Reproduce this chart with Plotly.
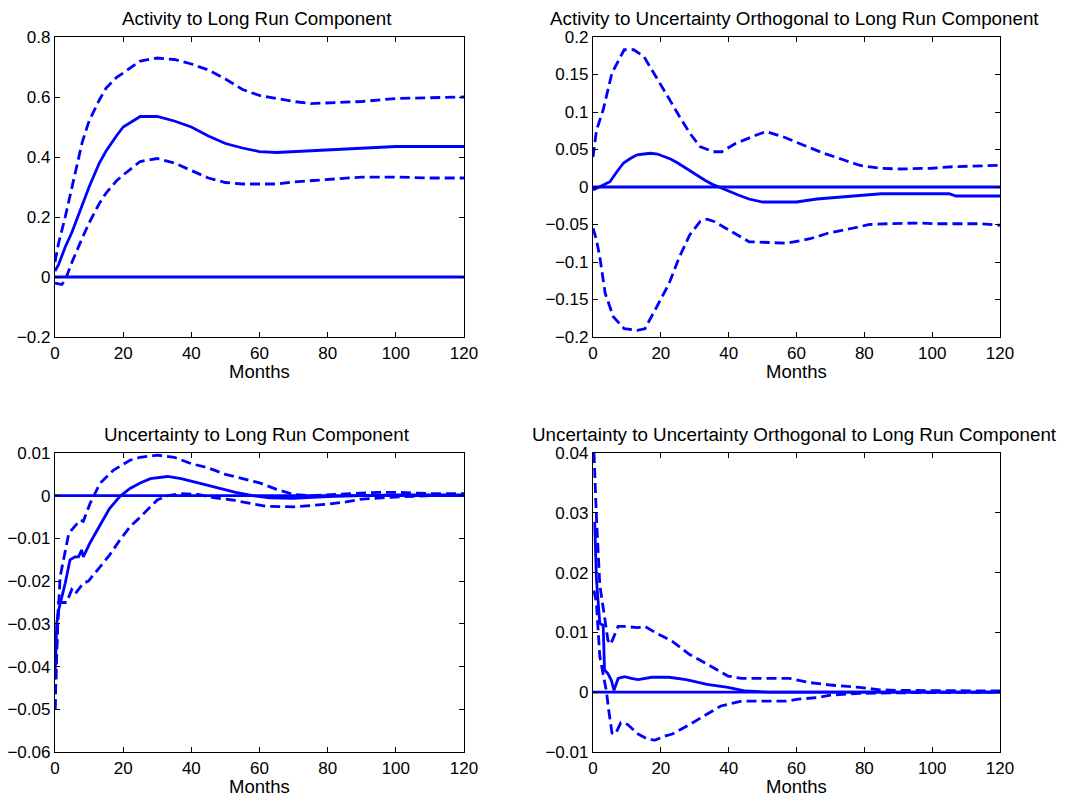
import plotly.graph_objects as go

# ---------------- data ----------------
titles = [
    "Activity to Long Run Component",
    "Activity to Uncertainty Orthogonal to Long Run Component",
    "Uncertainty to Long Run Component",
    "Uncertainty to Uncertainty Orthogonal to Long Run Component",
]
x_label = "Months"
x_ticks = [0, 20, 40, 60, 80, 100, 120]
zero_x = [0, 120]
zero_y = [0, 0]

# Panel 1: Activity to Long Run Component
p1_mid_x = [0, 1, 3, 5, 8, 10, 13, 15, 18, 20, 25, 30, 35, 40, 45, 50, 55, 60, 65, 70, 75, 80, 90, 100, 120]
p1_mid_y = [0.02, 0.04, 0.10, 0.15, 0.24, 0.30, 0.38, 0.42, 0.47, 0.50, 0.535, 0.535, 0.52, 0.50, 0.47, 0.445, 0.43, 0.418, 0.415, 0.418, 0.42, 0.425, 0.43, 0.435, 0.435]
p1_up_x = [0, 1, 3, 5, 8, 10, 13, 15, 18, 20, 25, 30, 35, 40, 45, 50, 55, 60, 65, 70, 75, 80, 90, 100, 120]
p1_up_y = [0.05, 0.11, 0.20, 0.30, 0.45, 0.52, 0.59, 0.63, 0.665, 0.68, 0.72, 0.73, 0.725, 0.71, 0.69, 0.66, 0.625, 0.605, 0.595, 0.585, 0.578, 0.58, 0.585, 0.595, 0.60]
p1_lo_x = [0, 2, 3, 5, 8, 10, 13, 15, 18, 20, 25, 30, 35, 40, 45, 50, 55, 60, 65, 70, 80, 90, 100, 110, 120]
p1_lo_y = [-0.02, -0.025, -0.01, 0.05, 0.13, 0.18, 0.245, 0.28, 0.32, 0.34, 0.385, 0.395, 0.38, 0.355, 0.33, 0.315, 0.31, 0.31, 0.31, 0.317, 0.325, 0.333, 0.333, 0.33, 0.33]

# Panel 2: Activity to Uncertainty Orthogonal to Long Run Component
p2_mid_x = [0, 1, 3, 5, 7, 9, 11, 13, 15, 17, 19, 21, 23, 25, 27, 29, 31, 33, 35, 37, 39, 41, 43, 46, 50, 55, 60, 66, 74, 80, 85, 95, 105, 107, 120]
p2_mid_y = [-0.004, -0.002, 0.002, 0.007, 0.02, 0.032, 0.038, 0.043, 0.044, 0.045, 0.044, 0.041, 0.037, 0.032, 0.026, 0.02, 0.015, 0.009, 0.004, 0.0, -0.004, -0.008, -0.011, -0.016, -0.02, -0.02, -0.02, -0.016, -0.013, -0.011, -0.009, -0.009, -0.009, -0.012, -0.012]
p2_up_x = [0, 1, 3, 5.6, 9.2, 12, 15, 18, 22, 25.5, 28.5, 31.5, 35.5, 38, 42, 48, 51, 56, 62, 68, 74, 78.5, 84.5, 90.5, 100, 106, 120]
p2_up_y = [0.04, 0.075, 0.103, 0.152, 0.183, 0.183, 0.174, 0.152, 0.121, 0.094, 0.072, 0.054, 0.047, 0.047, 0.058, 0.069, 0.074, 0.067, 0.056, 0.045, 0.036, 0.029, 0.025, 0.024, 0.025, 0.027, 0.029]
p2_lo_x = [0, 1, 2, 3.6, 6, 9.2, 13, 15.3, 18.3, 22.4, 25.5, 28.5, 31.6, 33.6, 35.7, 39.8, 46, 52, 57, 64, 69, 76.5, 81.5, 86.6, 96, 101, 114, 120]
p2_lo_y = [-0.055, -0.07, -0.093, -0.142, -0.173, -0.189, -0.191, -0.189, -0.164, -0.129, -0.093, -0.064, -0.046, -0.043, -0.046, -0.057, -0.073, -0.074, -0.075, -0.069, -0.062, -0.055, -0.05, -0.049, -0.048, -0.049, -0.049, -0.051]

# Panel 3: Uncertainty to Long Run Component
p3_mid_x = [0, 0.5, 1, 2, 3, 4.4, 5.9, 6.9, 7.8, 8.3, 10.3, 13.2, 16, 19, 22, 25, 28, 33, 37, 42, 48, 53, 58, 63, 70, 75, 80, 90, 100, 120]
p3_mid_y = [-0.043, -0.030, -0.027, -0.0237, -0.0205, -0.015, -0.0143, -0.0143, -0.0127, -0.0143, -0.011, -0.0069, -0.003, -0.0002, 0.0017, 0.003, 0.004, 0.0045, 0.004, 0.003, 0.0018, 0.0008, 0.0, -0.0005, -0.0006, -0.0004, -0.0002, 0.0, 0.0002, 0.0002]
p3_up_x = [0, 0.5, 1.5, 2.5, 4, 4.9, 7.4, 8.3, 10.3, 13.2, 17.2, 22, 25, 30, 35, 40, 45, 50, 55, 60, 65, 70, 75, 80, 85, 90, 95, 100, 110, 120]
p3_up_y = [-0.05, -0.035, -0.019, -0.015, -0.009, -0.008, -0.0057, -0.006, -0.0018, 0.0029, 0.006, 0.0083, 0.009, 0.0095, 0.009, 0.0075, 0.0065, 0.005, 0.004, 0.003, 0.0015, 0.0003, 0.0, 0.0002, 0.0003, 0.0005, 0.0008, 0.0008, 0.0005, 0.0005]
p3_lo_x = [0, 0.5, 1, 3.4, 4.9, 5.9, 8.3, 9.8, 13.2, 16, 19, 22, 25, 30, 33, 37, 42, 47, 52, 57, 62, 70, 80, 85, 90, 100, 110, 120]
p3_lo_y = [-0.05, -0.038, -0.025, -0.025, -0.022, -0.023, -0.0205, -0.020, -0.0166, -0.0139, -0.0104, -0.0073, -0.005, -0.001, 0.0, 0.0005, 0.0003, -0.0005, -0.001, -0.0018, -0.0025, -0.0026, -0.002, -0.0015, -0.0008, -0.0003, 0.0, 0.0]

# Panel 4: Uncertainty to Uncertainty Orthogonal to Long Run Component
p4_mid_x = [0.5, 1, 2, 3, 3.4, 4.4, 5.4, 6.2, 7.4, 9.3, 11.3, 13.3, 17.3, 22.4, 27.5, 33.6, 39.8, 45, 52, 120]
p4_mid_y = [0.0285, 0.019, 0.0115, 0.0112, 0.0037, 0.0031, 0.002, 0.0003, 0.0023, 0.0026, 0.0023, 0.0021, 0.0025, 0.0025, 0.0021, 0.0013, 0.0008, 0.0002, 0.0, 0.0]
p4_up_x = [0.3, 1, 2, 3, 4.4, 5.2, 7.4, 9.2, 13.3, 15.3, 18.3, 23.4, 28.5, 33.6, 39.8, 43.8, 58, 64, 70, 78.5, 84.6, 90, 120]
p4_up_y = [0.04, 0.0294, 0.018, 0.0144, 0.0087, 0.008, 0.011, 0.011, 0.0108, 0.011, 0.010, 0.0085, 0.0063, 0.0047, 0.0027, 0.0023, 0.0023, 0.0016, 0.0012, 0.0008, 0.0004, 0.0003, 0.0002]
p4_lo_x = [0.3, 1, 2, 3, 4, 4.6, 5.6, 6.6, 8.2, 10.2, 13.3, 16.3, 18.3, 21.4, 23.4, 28.5, 33.6, 37.7, 43.8, 57, 60, 66, 70, 78.5, 90, 120]
p4_lo_y = [0.017, 0.015, 0.006, 0.003, 0.0, -0.0029, -0.0068, -0.007, -0.0051, -0.0054, -0.007, -0.0079, -0.008, -0.0073, -0.007, -0.0054, -0.0037, -0.0023, -0.0015, -0.0015, -0.0012, -0.0009, -0.0005, -0.0002, -0.0001, 0.0]

y_ranges = [[-0.2, 0.8], [-0.2, 0.2], [-0.06, 0.01], [-0.01, 0.04]]
y_ticks = [
    [-0.2, 0, 0.2, 0.4, 0.6, 0.8],
    [-0.2, -0.15, -0.1, -0.05, 0, 0.05, 0.1, 0.15, 0.2],
    [-0.06, -0.05, -0.04, -0.03, -0.02, -0.01, 0, 0.01],
    [-0.01, 0, 0.01, 0.02, 0.03, 0.04],
]

panels = [
    (p1_mid_x, p1_mid_y, p1_up_x, p1_up_y, p1_lo_x, p1_lo_y),
    (p2_mid_x, p2_mid_y, p2_up_x, p2_up_y, p2_lo_x, p2_lo_y),
    (p3_mid_x, p3_mid_y, p3_up_x, p3_up_y, p3_lo_x, p3_lo_y),
    (p4_mid_x, p4_mid_y, p4_up_x, p4_up_y, p4_lo_x, p4_lo_y),
]

# ---------------- layout ----------------
W, H = 1065, 798
FONT = "Liberation Sans, Arial, Helvetica, sans-serif"
BLUE = "#0000FF"
LW = 2.8
DASH = "10px,5px"

# pixel boxes (left, right, top, bottom)
boxes = [
    (55, 464, 37, 337),
    (593, 1000, 37, 337),
    (55, 464, 453, 752),
    (593, 1000, 453, 752),
]

fig = go.Figure()
layout = dict(
    width=W, height=H,
    margin=dict(l=0, r=0, t=0, b=0, autoexpand=False),
    paper_bgcolor="white", plot_bgcolor="white",
    showlegend=False,
    font=dict(family=FONT, color="black"),
    annotations=[],
)

for i, (box, pdata) in enumerate(zip(boxes, panels)):
    l, r, t, b = box
    n = "" if i == 0 else str(i + 1)
    xa, ya = "x" + n, "y" + n
    mx, my, ux, uy, lx, ly = pdata
    fig.add_trace(go.Scatter(x=zero_x, y=zero_y, mode="lines", xaxis=xa, yaxis=ya,
                             line=dict(color=BLUE, width=LW)))
    fig.add_trace(go.Scatter(x=mx, y=my, mode="lines", xaxis=xa, yaxis=ya,
                             line=dict(color=BLUE, width=LW)))
    fig.add_trace(go.Scatter(x=ux, y=uy, mode="lines", xaxis=xa, yaxis=ya,
                             line=dict(color=BLUE, width=LW, dash=DASH)))
    fig.add_trace(go.Scatter(x=lx, y=ly, mode="lines", xaxis=xa, yaxis=ya,
                             line=dict(color=BLUE, width=LW, dash=DASH)))
    common = dict(showgrid=False, zeroline=False, showline=True, linecolor="black",
                  linewidth=1.3, mirror="ticks", ticks="inside", ticklen=5,
                  tickcolor="black", automargin=False,
                  tickfont=dict(family=FONT, size=17, color="black"))
    layout["xaxis" + n] = dict(domain=[l / W, r / W], range=[0, 120], tickvals=x_ticks,
                               anchor=ya, **common)
    layout["yaxis" + n] = dict(domain=[1 - b / H, 1 - t / H], range=y_ranges[i],
                               tickvals=y_ticks[i], anchor=xa, **common)
    layout["annotations"].append(dict(text=titles[i], x=(l + r - 5) / 2 / W, y=1 - (t - 6) / H,
                                      xref="paper", yref="paper", xanchor="center",
                                      yanchor="bottom", showarrow=False,
                                      font=dict(family=FONT, size=18.8, color="black")))
    layout["annotations"].append(dict(text=x_label, x=(l + r) / 2 / W, y=1 - (b + 34) / H,
                                      xref="paper", yref="paper", xanchor="center",
                                      yanchor="middle", showarrow=False,
                                      font=dict(family=FONT, size=18.5, color="black")))

fig.update_layout(**layout)
fig.write_html("out.html",
               config={"displayModeBar": False},
               post_script="document.body.style.margin='0px';document.body.style.overflow='hidden';")
